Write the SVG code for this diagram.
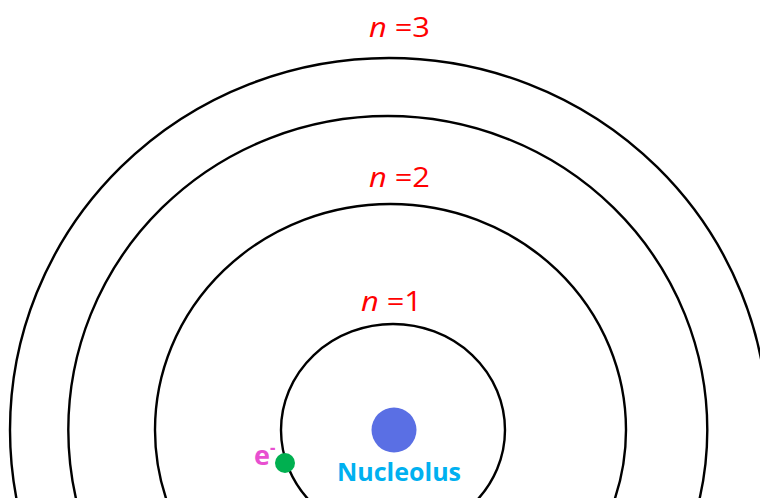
<svg xmlns="http://www.w3.org/2000/svg" width="760" height="498" viewBox="0 0 760 498">
<style>
.orbit{fill:none;stroke:#000;stroke-width:2.4}
.lbl{font-family:"Open Sans","Liberation Sans",sans-serif;font-size:28px;fill:#ff0000}
.it{font-style:italic}
</style>
<rect width="760" height="498" fill="#fff"/>
<g id="orbit4"><ellipse class="orbit" cx="389" cy="430" rx="379" ry="372"/></g>
<g id="orbit3"><ellipse class="orbit" cx="387.8" cy="430" rx="319.5" ry="314"/></g>
<g id="orbit2"><ellipse class="orbit" cx="390.5" cy="430" rx="235.5" ry="226"/></g>
<g id="orbit1"><ellipse class="orbit" cx="393" cy="430" rx="112" ry="106"/></g>
<g id="label3"><text class="lbl" x="369" y="37" textLength="61" lengthAdjust="spacingAndGlyphs"><tspan class="it">n</tspan> =3</text></g>
<g id="label2"><text class="lbl" x="369" y="187" textLength="61" lengthAdjust="spacingAndGlyphs"><tspan class="it">n</tspan> =2</text></g>
<g id="label1"><text class="lbl" x="361" y="311" textLength="61" lengthAdjust="spacingAndGlyphs"><tspan class="it">n</tspan> =1</text></g>
<g id="nucleus">
<circle cx="394" cy="430" r="22.5" fill="#5a6fe4"/>
<text x="337" y="481" font-family="'Open Sans','Liberation Sans',sans-serif" font-weight="bold" font-size="25" fill="#00b0f0" textLength="124" lengthAdjust="spacingAndGlyphs">Nucleolus</text>
</g>
<g id="electron">
<circle cx="285" cy="463" r="10" fill="#00b050"/>
<text x="254" y="465" font-family="'Open Sans','Liberation Sans',sans-serif" font-weight="bold" font-size="27" fill="#e84fd0">e<tspan font-size="17" dy="-11">-</tspan></text>
</g>
</svg>
